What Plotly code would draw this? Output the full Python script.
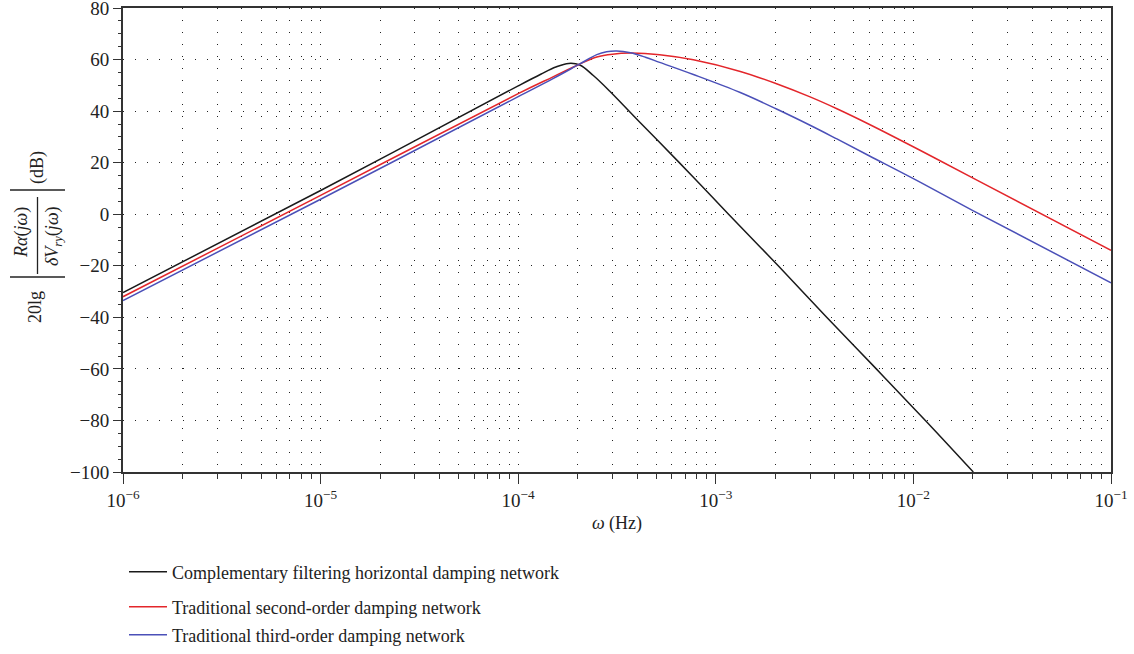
import plotly.graph_objects as go

# ---------------- data ----------------
freq_black = [1e-6, 1e-5, 1e-4, 1.3e-4, 1.55e-4, 1.8e-4, 2.05e-4, 2.4e-4,
              2.9e-4, 3.8e-4, 5e-4, 7.94e-4, 1.16e-3, 2.07e-3, 3.64e-3,
              6.49e-3, 1.15e-2, 2.01e-2]
db_black = [-30.4, 9.2, 49.8, 54.3, 57.1, 58.5, 57.9, 53.8,
            47.8, 38.5, 29.2, 13.3, 0.0, -20.0, -40.0,
            -60.0, -80.0, -100.0]

freq_red = [1e-6, 1e-5, 1e-4, 1.5e-4, 2.04e-4, 2.5e-4, 3e-4, 3.7e-4, 5.2e-4,
            7.7e-4, 1.33e-3, 2.03e-3, 3e-3, 4.1e-3, 6e-3, 1.08e-2, 2.05e-2, 1e-1]
db_red = [-32.0, 7.3, 46.8, 53.3, 58.2, 61.0, 62.1, 62.5, 61.9,
          59.9, 55.4, 50.6, 45.5, 40.9, 34.8, 24.8, 13.6, -14.0]

freq_blue = [1e-6, 1e-5, 1e-4, 1.5e-4, 2.04e-4, 2.5e-4, 2.8e-4, 3.15e-4, 3.7e-4,
             4.4e-4, 5.2e-4, 7.7e-4, 1.33e-3, 2.03e-3, 3e-3, 4.1e-3, 6e-3,
             1e-2, 2e-2, 1e-1]
db_blue = [-33.5, 5.8, 45.6, 52.6, 58.2, 61.9, 63.0, 63.3, 62.6,
           60.9, 58.9, 54.2, 47.2, 40.8, 34.5, 29.2, 22.6,
           13.8, 1.4, -26.6]

names = ["Complementary filtering horizontal damping network",
         "Traditional second-order damping network",
         "Traditional third-order damping network"]
colors = ["#1a1a1a", "#e3262b", "#4b50b8"]

y_ticks = [-100, -80, -60, -40, -20, 0, 20, 40, 60, 80]
x_major = [1e-6, 1e-5, 1e-4, 1e-3, 1e-2, 1e-1]
x_major_text = ["10<sup>−6</sup>", "10<sup>−5</sup>", "10<sup>−4</sup>",
                "10<sup>−3</sup>", "10<sup>−2</sup>", "10<sup>−1</sup>"]
x_minor = [m * d for d in [1e-6, 1e-5, 1e-4, 1e-3, 1e-2] for m in range(2, 10)]

# ---------------- layout geometry ----------------
W, H = 1134, 654
L, R, T, B = 123, 23, 8, 182
PW, PH = W - L - R, H - T - B
FONT = "Liberation Serif"


def px2x(px):
    return (px - L) / PW


def py2y(py):
    return (T + PH - py) / PH


fig = go.Figure()
series = [(freq_black, db_black), (freq_red, db_red), (freq_blue, db_blue)]
legends = ["legend", "legend2", "legend3"]
for (fx, fy), name, col, lg in zip(series, names, colors, legends):
    fig.add_trace(go.Scatter(
        x=fx, y=fy, mode="lines", name=name, legend=lg,
        line=dict(color=col, width=1.5, shape="spline", smoothing=1.0),
    ))

grid_dash = "1px,11px"
fig.update_xaxes(
    type="log", range=[-6, -1], tickvals=x_major, ticktext=x_major_text,
    ticks="outside", ticklen=10, tickwidth=1.3, tickcolor="#333",
    ticklabelstandoff=0, ticklabeloverflow="allow", automargin=False,
    showline=True, linecolor="#333", linewidth=1.5, mirror=True,
    showgrid=True, gridcolor="#222", gridwidth=1, griddash=grid_dash,
    zeroline=False,
    tickfont=dict(family=FONT, size=19, color="#222"),
    minor=dict(tickvals=x_minor, ticks="outside", ticklen=5, tickwidth=1,
               tickcolor="#333", showgrid=True, gridcolor="#222",
               griddash=grid_dash, gridwidth=1),
    title=dict(text="<i>ω</i> (Hz)", font=dict(family=FONT, size=18, color="#222"),
               standoff=7),
)
fig.update_yaxes(
    range=[-100, 80], tickvals=y_ticks,
    ticks="outside", ticklen=8, tickwidth=1.3, tickcolor="#333",
    ticklabeloverflow="allow", automargin=False,
    showline=True, linecolor="#333", linewidth=1.8, mirror=True,
    showgrid=True, gridcolor="#222", gridwidth=1, griddash=grid_dash,
    zeroline=False,
    tickfont=dict(family=FONT, size=19, color="#222"),
    minor=dict(dtick=5, ticks="outside", ticklen=3, tickwidth=1, tickcolor="#333",
               showgrid=False),
)

# ---------------- y-axis label built from pieces ----------------
lab_font = dict(family=FONT, size=18, color="#222")
pieces = [
    ("20lg", 35, 307),
    ("<i>Rα</i>(<i>jω</i>)", 21, 233),
    ("<i>δV</i><sub><i>ry</i></sub>(<i>jω</i>)", 53, 236),
    ("(dB)", 37, 168),
]
for txt, cx, cy in pieces:
    fig.add_annotation(text=txt, x=px2x(cx), y=py2y(cy), xref="paper", yref="paper",
                       xanchor="center", yanchor="middle", showarrow=False,
                       textangle=-90, font=lab_font)
bars = [  # (x0, y0, x1, y1) in pixels
    (10, 277, 65, 277),
    (10, 190, 65, 190),
    (37.5, 197, 37.5, 274),
]
for x0, y0, x1, y1 in bars:
    fig.add_shape(type="line", xref="paper", yref="paper",
                  x0=px2x(x0), y0=py2y(y0), x1=px2x(x1), y1=py2y(y1),
                  line=dict(color="#222", width=1.3))

leg_common = dict(xanchor="left", yanchor="middle", orientation="v",
                  font=dict(family=FONT, size=18, color="#222"),
                  bgcolor="rgba(0,0,0,0)", itemwidth=38, borderwidth=0)
row_y = [572, 607, 635]
fig.update_layout(
    width=W, height=H,
    margin=dict(l=L, r=R, t=T, b=B, pad=0, autoexpand=False),
    paper_bgcolor="white", plot_bgcolor="white",
    font=dict(family=FONT, size=18, color="#222"),
    showlegend=True,
    legend=dict(x=px2x(124), y=py2y(row_y[0]), **leg_common),
    legend2=dict(x=px2x(124), y=py2y(row_y[1]), **leg_common),
    legend3=dict(x=px2x(124), y=py2y(row_y[2]), **leg_common),
)

fig.write_html("out.html")
